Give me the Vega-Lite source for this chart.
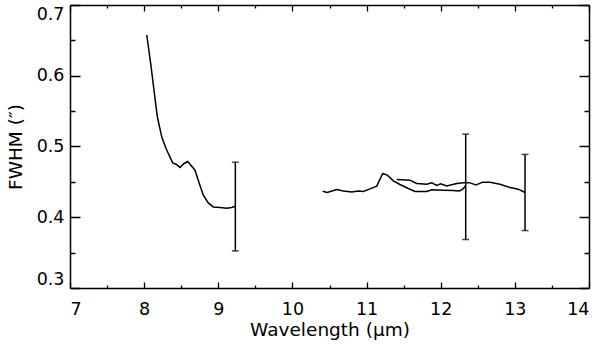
{
  "$schema": "https://vega.github.io/schema/vega-lite/v6.json",
  "autosize": "none",
  "width": 519,
  "height": 283,
  "padding": {"left": 70, "top": 5, "right": 11, "bottom": 57},
  "background": "white",
  "config": {
    "view": {"stroke": null},
    "axis": {
      "grid": false,
      "domain": false,
      "labels": false,
      "ticks": false,
      "title": null,
      "gridColor": "black",
      "gridOpacity": 1,
      "gridWidth": 1.3,
      "domainColor": "black",
      "domainWidth": 1.5,
      "labelColor": "black",
      "titleColor": "black",
      "labelFont": "DejaVu Sans",
      "titleFont": "DejaVu Sans",
      "labelFontSize": 17.5,
      "titleFontSize": 18.5,
      "titleFontWeight": "normal"
    }
  },
  "datasets": {
    "curveA": [
      {"x": 8.035, "y": 0.6576},
      {"x": 8.088, "y": 0.6175},
      {"x": 8.133, "y": 0.5797},
      {"x": 8.178, "y": 0.5420},
      {"x": 8.237, "y": 0.5137},
      {"x": 8.295, "y": 0.4972},
      {"x": 8.385, "y": 0.4769},
      {"x": 8.430, "y": 0.4750},
      {"x": 8.484, "y": 0.4704},
      {"x": 8.538, "y": 0.4760},
      {"x": 8.588, "y": 0.4788},
      {"x": 8.686, "y": 0.4665},
      {"x": 8.744, "y": 0.4477},
      {"x": 8.798, "y": 0.4312},
      {"x": 8.865, "y": 0.4203},
      {"x": 8.933, "y": 0.4146},
      {"x": 9.023, "y": 0.4138},
      {"x": 9.114, "y": 0.4128},
      {"x": 9.181, "y": 0.4138},
      {"x": 9.230, "y": 0.4156}
    ],
    "curvesBC": [
      {"seg": "b", "x": 10.408, "y": 0.4368},
      {"seg": "b", "x": 10.470, "y": 0.4350},
      {"seg": "b", "x": 10.597, "y": 0.4392},
      {"seg": "b", "x": 10.686, "y": 0.4372},
      {"seg": "b", "x": 10.800, "y": 0.4358},
      {"seg": "b", "x": 10.889, "y": 0.4372},
      {"seg": "b", "x": 10.956, "y": 0.4364},
      {"seg": "b", "x": 11.046, "y": 0.4401},
      {"seg": "b", "x": 11.137, "y": 0.4439},
      {"seg": "b", "x": 11.218, "y": 0.4619},
      {"seg": "b", "x": 11.280, "y": 0.4595},
      {"seg": "b", "x": 11.361, "y": 0.4514},
      {"seg": "b", "x": 11.451, "y": 0.4463},
      {"seg": "b", "x": 11.563, "y": 0.4406},
      {"seg": "b", "x": 11.653, "y": 0.4364},
      {"seg": "b", "x": 11.811, "y": 0.4364},
      {"seg": "b", "x": 11.879, "y": 0.4387},
      {"seg": "b", "x": 12.035, "y": 0.4382},
      {"seg": "b", "x": 12.170, "y": 0.4378},
      {"seg": "b", "x": 12.251, "y": 0.4372},
      {"seg": "b", "x": 12.297, "y": 0.4397},
      {"seg": "b", "x": 12.337, "y": 0.4449},
      {"seg": "c", "x": 11.407, "y": 0.4534},
      {"seg": "c", "x": 11.586, "y": 0.4524},
      {"seg": "c", "x": 11.676, "y": 0.4477},
      {"seg": "c", "x": 11.811, "y": 0.4467},
      {"seg": "c", "x": 11.879, "y": 0.4486},
      {"seg": "c", "x": 11.946, "y": 0.4449},
      {"seg": "c", "x": 12.000, "y": 0.4472},
      {"seg": "c", "x": 12.081, "y": 0.4443},
      {"seg": "c", "x": 12.216, "y": 0.4477},
      {"seg": "c", "x": 12.337, "y": 0.4491},
      {"seg": "c", "x": 12.395, "y": 0.4486},
      {"seg": "c", "x": 12.476, "y": 0.4457},
      {"seg": "c", "x": 12.566, "y": 0.4496},
      {"seg": "c", "x": 12.665, "y": 0.4496},
      {"seg": "c", "x": 12.800, "y": 0.4467},
      {"seg": "c", "x": 12.935, "y": 0.4421},
      {"seg": "c", "x": 13.047, "y": 0.4397},
      {"seg": "c", "x": 13.137, "y": 0.4350}
    ],
    "errs": [
      {"x": 9.23, "lo": 0.3524, "hi": 0.4779},
      {"x": 12.337, "lo": 0.3685, "hi": 0.5175},
      {"x": 13.137, "lo": 0.3812, "hi": 0.4888}
    ]
  },
  "layer": [
    {
      "data": {"name": "curveA"},
      "mark": {"type": "line", "color": "black", "strokeWidth": 1.5, "clip": true},
      "encoding": {
        "x": {
          "field": "x", "type": "quantitative",
          "scale": {"domain": [7, 14], "nice": false, "zero": false},
          "axis": {"orient": "bottom", "domain": true, "labels": true, "grid": true, "gridDash": [6, 271], "values": [7, 8, 9, 10, 11, 12, 13, 14], "labelPadding": 12, "title": "Wavelength (μm)", "titlePadding": 3}
        },
        "y": {
          "field": "y", "type": "quantitative",
          "scale": {"domain": [0.3, 0.7], "nice": false, "zero": false},
          "axis": {"orient": "left", "domain": true, "labels": true, "grid": true, "gridDash": [10, 499], "values": [0.3, 0.4, 0.5, 0.6, 0.7], "format": ".1f", "labelPadding": 6, "labelFlush": true, "title": "FWHM (″)", "titlePadding": 11}
        }
      }
    },
    {
      "data": {"name": "curvesBC"},
      "mark": {"type": "line", "color": "black", "strokeWidth": 1.5, "clip": true},
      "encoding": {
        "x": {"field": "x", "type": "quantitative",
          "axis": {"orient": "bottom", "grid": true, "gridDash": [3, 277], "values": [7.5, 8.5, 9.5, 10.5, 11.5, 12.5, 13.5]}},
        "y": {"field": "y", "type": "quantitative",
          "axis": {"orient": "left", "grid": true, "gridDash": [5, 509], "values": [0.35, 0.45, 0.55, 0.65]}},
        "detail": {"field": "seg"}
      }
    },
    {
      "data": {"name": "errs"},
      "mark": {"type": "rule", "color": "black", "strokeWidth": 1.5},
      "encoding": {
        "x": {"field": "x", "type": "quantitative",
          "axis": {"orient": "top", "domain": true, "values": [7, 14]}},
        "y": {"field": "lo", "type": "quantitative",
          "axis": {"orient": "right", "domain": true, "values": [0.3, 0.7]}},
        "y2": {"field": "hi"}
      }
    },
    {
      "data": {"name": "errs"},
      "mark": {"type": "tick", "color": "black", "orient": "horizontal", "size": 7, "thickness": 1.5},
      "encoding": {
        "x": {"field": "x", "type": "quantitative", "axis": null},
        "y": {"field": "lo", "type": "quantitative", "axis": null}
      }
    },
    {
      "data": {"name": "errs"},
      "mark": {"type": "tick", "color": "black", "orient": "horizontal", "size": 7, "thickness": 1.5},
      "encoding": {
        "x": {"field": "x", "type": "quantitative", "axis": null},
        "y": {"field": "hi", "type": "quantitative", "axis": null}
      }
    }
  ],
  "resolve": {"axis": {"x": "independent", "y": "independent"}}
}
